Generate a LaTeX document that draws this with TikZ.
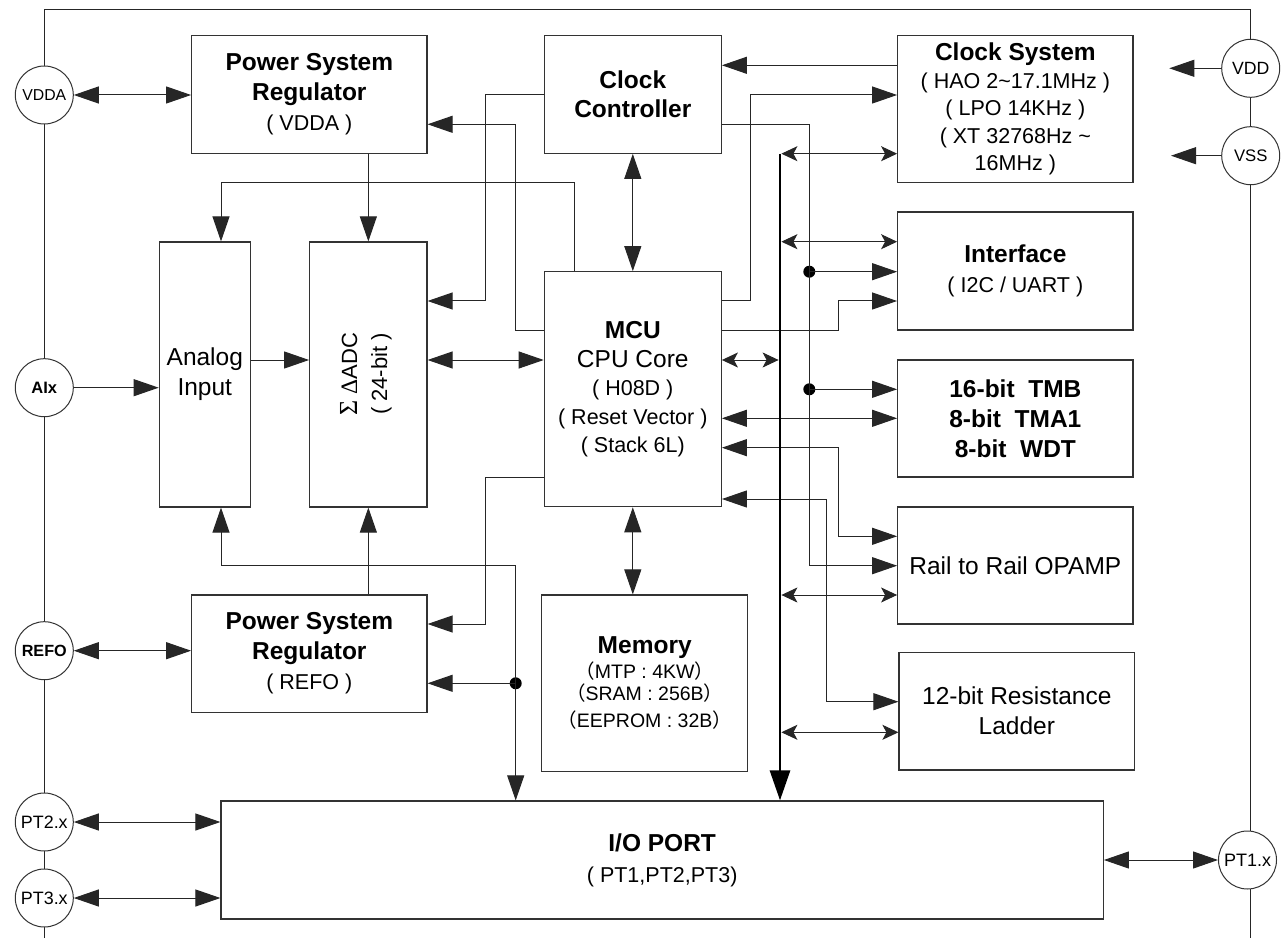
\documentclass[tikz,border=0pt]{standalone}
\usepackage{fontspec}
\setmainfont{Liberation Sans}
\newfontfamily\cjk{Noto Sans CJK SC}
\newfontfamily\serifgr{Liberation Serif}
\usetikzlibrary{arrows.meta}
\newcommand\fsz[2]{\fontsize{#1}{#2}\selectfont}
\begin{document}
\begin{tikzpicture}[x=1pt,y=-1pt,
  box/.style={draw=black!80, line width=1.2pt, fill=white, inner sep=0pt, align=center},
  pin/.style={circle, draw=black!80, line width=1pt, fill=white, minimum size=58pt, inner sep=0pt},
  wire/.style={line width=1pt, draw=black!85},
  arr/.style={wire, -{Triangle[length=25pt,width=17pt]}},
  dbl/.style={wire, {Triangle[length=25pt,width=17pt]}-{Triangle[length=25pt,width=17pt]}},
  sdbl/.style={wire, {Stealth[length=16pt,width=15pt,inset=4pt]}-{Stealth[length=16pt,width=15pt,inset=4pt]}},
  bus/.style={line width=2.8pt, draw=black, -{Triangle[length=30pt,width=20pt]}},
  junc/.style={circle, fill=black, minimum size=12pt, inner sep=0pt},
]
\fill[white] (0,0) rectangle (1285,938);
% frame
\draw[wire] (44.3,938) -- (44.3,9.3) -- (1250.7,9.3) -- (1250.7,938);

% boxes
\node[box, minimum width=235.3pt, minimum height=117.6pt, font=\fsz{24.5}{30}] (psrv) at (309.35,94.5)
  {{\bfseries Power System}\\{\bfseries Regulator}\\{\fsz{21.5}{30}( VDDA )}};
\node[box, minimum width=91pt, minimum height=265pt, font=\fsz{24.5}{30}] (ain) at (204.8,374.5)
  {Analog\\Input};
\node[box, minimum width=117.3pt, minimum height=265pt] (adc) at (368.35,374.5) {};
\node[rotate=90, align=center, inner sep=0pt, font=\fsz{22}{30}] (adct) at (366,374)
  {{\serifgr\fsz{26}{30}Σ} {\serifgr\fsz{23.5}{30}Δ}ADC\\( 24-bit )};
\node[box, minimum width=177pt, minimum height=117.6pt, font=\fsz{24.5}{29.4}\bfseries] (cc) at (632.8,94.5)
  {Clock\\Controller};
\node[box, minimum width=235.3pt, minimum height=147pt, font=\fsz{21.5}{27.5}] (cs) at (1015.35,109.2)
  {{\fsz{24.5}{27.5}\bfseries Clock System}\\( HAO 2\textasciitilde 17.1MHz )\\( LPO 14KHz )\\( XT 32768Hz \textasciitilde\\16MHz )};
\node[box, minimum width=235.3pt, minimum height=118pt, font=\fsz{24.5}{29.7}] (itf) at (1015.35,271)
  {{\bfseries Interface}\\{\fsz{21.5}{29.7}( I2C / UART )}};
\node[box, minimum width=177pt, minimum height=235pt, font=\fsz{21.5}{28.5}] (mcu) at (632.8,389.2)
  {{\fsz{24.5}{28.5}\bfseries MCU}\\{\fsz{24.5}{28.5}CPU Core}\\( H08D )\\( Reset Vector )\\( Stack 6L)};
\node[box, minimum width=235.3pt, minimum height=117pt, font=\fsz{24.5}{30}\bfseries] (tmb) at (1015.35,418.5)
  {16-bit\ \ TMB\\8-bit\ \ TMA1\\8-bit\ \ WDT};
\node[box, minimum width=235.3pt, minimum height=117pt, font=\fsz{24.5}{30}] (opa) at (1015.35,565.5)
  {Rail to Rail OPAMP};
\node[box, minimum width=235.7pt, minimum height=117.7pt, font=\fsz{24.5}{30}] (rl) at (1016.85,711.15)
  {12-bit Resistance\\Ladder};
\node[box, minimum width=206pt, minimum height=176.7pt, font=\fsz{19.5}{22}] (mem) at (644.7,683.35)
  {{\fsz{24.5}{22}\bfseries Memory}\\[3pt]{\cjk （}MTP : 4KW{\cjk ）}\\{\cjk （}SRAM : 256B{\cjk ）}\\[5pt]{\cjk （}EEPROM : 32B{\cjk ）}};
\node[box, minimum width=235.3pt, minimum height=117.3pt, font=\fsz{24.5}{30}] (psrr) at (309.35,653.65)
  {{\bfseries Power System}\\{\bfseries Regulator}\\{\fsz{21.5}{30}( REFO )}};
\node[box, minimum width=882.3pt, minimum height=118pt, font=\fsz{24.5}{31}] (io) at (662.15,860)
  {{\bfseries I/O PORT}\\{\fsz{21.5}{31}( PT1,PT2,PT3)}};

% pins
\node[pin, font=\fsz{15.8}{16}] (cvdda) at (44.3,95) {VDDA};
\node[pin, font=\fsz{16.5}{17}\bfseries] (caix) at (44.3,387.7) {AIx};
\node[pin, font=\fsz{16.2}{17}\bfseries] (crefo) at (44.3,650.7) {REFO};
\node[pin, font=\fsz{17.9}{18}] (cpt2) at (44.3,822) {PT2.x};
\node[pin, font=\fsz{17.9}{18}] (cpt3) at (44.3,898) {PT3.x};
\node[pin, font=\fsz{17.7}{18}] (cvdd) at (1250.7,68.3) {VDD};
\node[pin, font=\fsz{16.7}{17}] (cvss) at (1250.7,155.7) {VSS};
\node[pin, font=\fsz{18}{18}] (cpt1) at (1247.5,860) {PT1.x};

% free ends and junctions
\coordinate (vddtip) at (1169.3,68.3);
\coordinate (vsstip) at (1171,155.7);
\coordinate (bustop) at (780,153.7);
\coordinate (b1) at (781.4,153.7);
\coordinate (b2) at (781.4,241.7);
\coordinate (b3) at (781.4,595);
\coordinate (b4) at (781.4,732.3);
\coordinate (b0) at (778.6,360);
\node[junc] (j1) at (515.7,683.3) {};
\node[junc] (j2) at (809.3,271.7) {};
\node[junc] (j3) at (809.3,389.3) {};

% left side connectors
\draw[dbl] (cvdda.east) -- (psrv.west |- cvdda.east);
\draw[arr] (caix.east) -- (ain.west |- caix.east);
\draw[dbl] (crefo.east) -- (psrr.west |- crefo.east);
\draw[dbl] (cpt2.east) -- (io.west |- cpt2.east);
\draw[dbl] (cpt3.east) -- (io.west |- cpt3.east);
\draw[arr] (adc.north |- psrv.south) -- (adc.north);
\draw[arr] (adc.south |- psrr.north) -- (adc.south);
\draw[arr] (mcu.north west -| 574.3,0) |- (221,182.7) -- (ain.north -| 221,0);
\draw[arr] (cc.west) -| (485.7,301) -- (adc.east |- 0,301);
\draw[arr] (mcu.west |- 0,330) -| (515.7,124.3) -- (psrv.east |- 0,124.3);
\draw[arr] (ain.east |- 0,360) -- (adc.west |- 0,360);
\draw[dbl] (adc.east |- 0,360) -- (mcu.west |- 0,360);
\draw[arr] (mcu.west |- 0,477.3) -| (485.7,624) -- (psrr.east |- 0,624);
\draw[dbl] (ain.south -| 221,0) |- (515.7,565.7) -- (io.north -| 515.7,0);
\draw[arr] (j1.center) -- (psrr.east |- j1.center);

% centre column
\draw[dbl] (cc.south) -- (mcu.north);
\draw[dbl] (mcu.south) -- (mcu.south |- mem.north);

% right side connectors
\draw[arr] (cvdd.west) -- (vddtip);
\draw[arr] (cvss.west) -- (vsstip);
\draw[arr] (cs.west |- 0,65.3) -- (cc.east |- 0,65.3);
\draw[arr] (mcu.east |- 0,301) -| (750,95) -- (cs.west |- 0,95);
\draw[arr] (cc.east |- 0,124.3) -| (809.3,565.7) -- (opa.west |- 0,565.7);
\draw[arr] (j2.center) -- (itf.west |- j2.center);
\draw[arr] (j3.center) -- (tmb.west |- j3.center);
\draw[arr] (mcu.east |- 0,330) -| (838.7,301) -- (itf.west |- 0,301);
\draw[dbl] (mcu.east |- 0,418.3) -- (tmb.west |- 0,418.3);
\draw[dbl] (mcu.east |- 0,447.7) -| (838.7,536.3) -- (opa.west |- 0,536.3);
\draw[dbl] (mcu.east |- 0,499) -| (826.7,701.7) -- (rl.west |- 0,701.7);
\draw[dbl] (io.east) -- (cpt1.west);

% bus
\draw[bus] (bustop) -- (io.north -| bustop);
\draw[sdbl] (b1) -- (cs.west |- b1);
\draw[sdbl] (b2) -- (itf.west |- b2);
\draw[sdbl] (b3) -- (opa.west |- b3);
\draw[sdbl] (b4) -- (rl.west |- b4);
\draw[sdbl] (mcu.east |- b0) -- (b0);
\end{tikzpicture}
\end{document}
